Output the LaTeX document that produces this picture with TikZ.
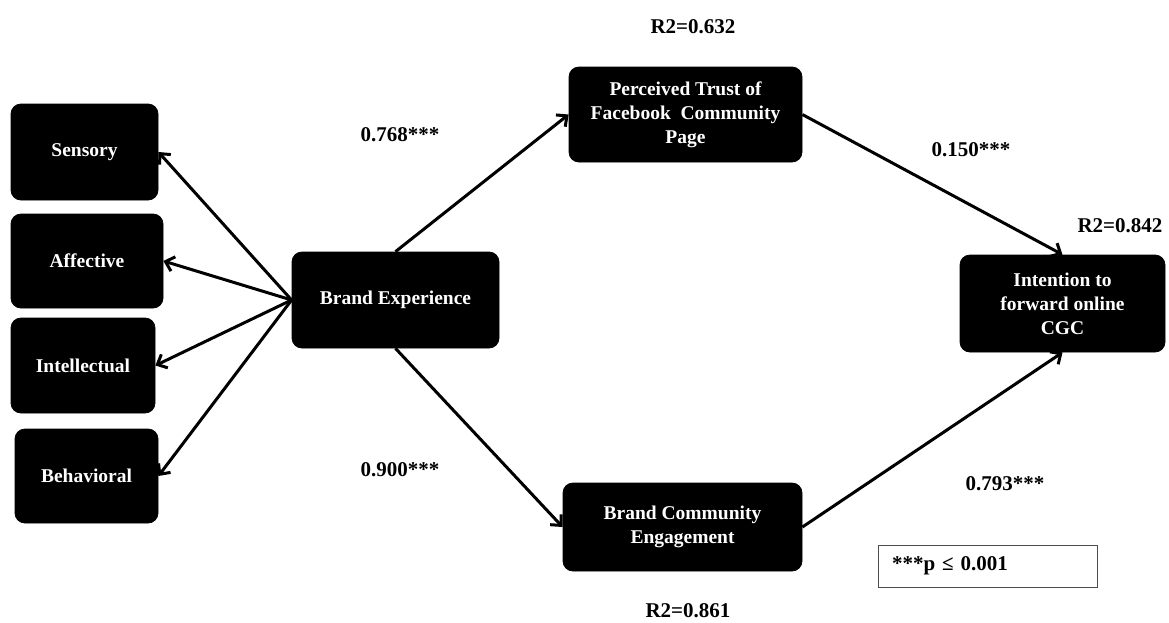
\documentclass[tikz,border=0pt]{standalone}
\usepackage{fontspec}
\setmainfont{Liberation Serif}
\usetikzlibrary{arrows.meta}
\begin{document}
\begin{tikzpicture}[x=1pt,y=-1pt,thick]
\tikzstyle{block} = [draw,fill=black,rounded corners=10pt,text=white,align=center,inner sep=2pt,font=\fontsize{19.5}{24}\selectfont\bfseries]
\tikzstyle{lbl} = [font=\fontsize{21}{24}\selectfont\bfseries]
\tikzstyle{connector} = [-{Straight Barb[length=8pt,width=15pt]},line width=3pt]
\useasboundingbox (0,0) rectangle (1169,622);

% dimensions on the left
\node[block,minimum width=147pt,minimum height=96pt](sens) at (84.5,152) {Sensory};
\node[block,minimum width=152pt,minimum height=94pt](aff) at (87,261) {Affective};
\node[block,minimum width=144pt,minimum height=95pt](intel) at (83,365.5) {Intellectual};
\node[block,minimum width=143pt,minimum height=94pt](behav) at (86.5,476) {Behavioral};

% constructs
\node[block,minimum width=207pt,minimum height=96pt](bexp) at (395.5,300) {Brand Experience};
\node[block,minimum width=233pt,minimum height=95pt](trust) at (685.5,114.5) {Perceived Trust of\\Facebook~ Community\\Page};
\node[block,minimum width=239pt,minimum height=88pt](bce) at (682.5,527) {Brand Community\\Engagement};
\node[block,minimum width=205pt,minimum height=97pt](fwd) at (1062.5,303.5) {Intention to\\forward online\\CGC};

% coefficients
\node[lbl](c1) at (400,135) {0.768***};
\node[lbl](c2) at (400,470) {0.900***};
\node[lbl](c3) at (971,150) {0.150***};
\node[lbl](c4) at (1005,484) {0.793***};
\node[lbl](r1) at (693,27) {R2=0.632};
\node[lbl](r2) at (1120,226) {R2=0.842};
\node[lbl](r3) at (688,611) {R2=0.861};
\node[draw=black!70,line width=1pt,minimum width=219pt,minimum height=42pt,text width=191pt,inner xsep=14pt,align=left,font=\fontsize{21}{24}\selectfont\bfseries](note) at (987.5,566) {***p ≤ 0.001};

\draw [connector] (bexp.west) -- (sens.east);
\draw [connector] (bexp.west) -- (aff.east);
\draw [connector] (bexp.west) -- (intel.east);
\draw [connector] (bexp.west) -- (behav.east);
\draw [connector] (bexp.north) -- (trust.west);
\draw [connector] (bexp.south) -- (bce.west);
\draw [connector] (trust.east) -- (fwd.north);
\draw [connector] (bce.east) -- (fwd.south);
\end{tikzpicture}
\end{document}
